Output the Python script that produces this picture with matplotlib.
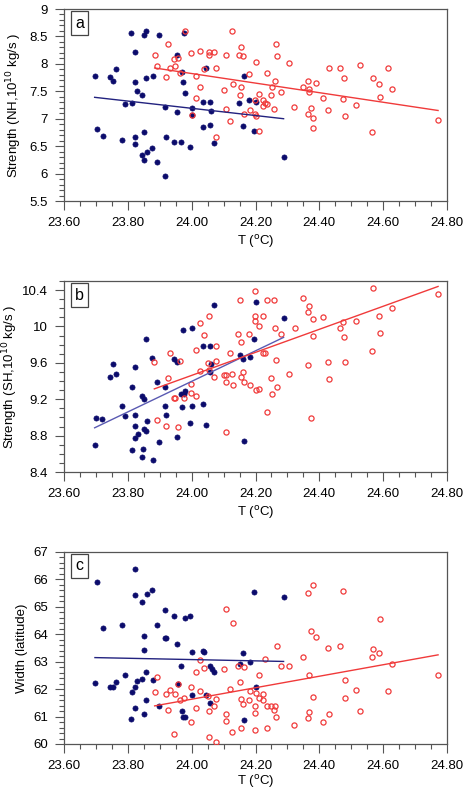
import matplotlib
matplotlib.use("Agg")
import matplotlib.pyplot as plt
from matplotlib.ticker import MultipleLocator, FormatStrFormatter, FuncFormatter

plt.rcParams['font.family'] = ['Liberation Sans', 'DejaVu Sans']

# ---------------- data (panel a: NH strength) ----------------
Ta_blue = [23.696,23.702,23.721,23.744,23.753,23.764,23.782,23.791,23.811,23.813,
           23.823,23.823,23.823,23.822,23.830,23.843,23.845,23.850,23.856,23.850,
           23.851,23.856,23.860,23.877,23.880,23.890,23.897,23.915,23.918,23.919,
           23.945,23.954,23.953,23.967,23.970,23.972,23.978,23.977,23.995,24.002,
           24.000,24.036,24.036,24.045,24.057,24.060,24.058,24.070,24.149,24.165,
           24.160,24.180,24.196,24.202,24.288]
Sa_blue = [7.785,6.81,6.69,7.755,7.69,7.91,6.62,7.27,8.57,7.29,
           8.21,7.67,6.67,6.545,7.50,6.34,7.44,8.52,8.59,6.76,
           6.24,7.75,6.40,6.46,7.77,6.22,8.53,5.96,7.21,6.66,
           6.57,8.155,7.12,6.58,7.86,7.67,7.46,8.56,6.48,7.19,
           7.07,7.31,6.84,7.92,7.31,7.14,6.88,6.55,7.29,7.785,
           6.86,7.35,6.78,7.31,6.31]
Ta_red = [23.884,23.892,23.920,23.927,23.933,23.945,23.947,23.956,23.962,23.978,
          23.999,24.001,24.015,24.015,24.026,24.025,24.039,24.053,24.055,24.069,
          24.075,24.077,24.100,24.109,24.108,24.121,24.125,24.130,24.148,24.150,
          24.155,24.156,24.161,24.165,24.180,24.183,24.199,24.199,24.200,24.203,
          24.211,24.211,24.223,24.225,24.230,24.236,24.235,24.248,24.251,24.257,
          24.260,24.263,24.266,24.280,24.305,24.322,24.349,24.363,24.364,24.367,
          24.368,24.374,24.380,24.379,24.390,24.410,24.428,24.431,24.464,24.474,
          24.478,24.479,24.514,24.526,24.565,24.569,24.587,24.589,24.614,24.627,
          24.772]
Sa_red = [8.17,7.955,7.755,8.37,7.92,8.095,7.955,8.11,7.83,8.59,
          8.20,7.07,7.785,7.385,8.235,7.57,7.90,8.21,8.155,8.215,
          7.92,6.67,7.52,7.18,8.17,6.95,8.59,7.63,8.155,7.43,
          8.30,7.57,8.15,7.08,7.82,7.165,7.35,7.09,7.055,8.03,
          6.77,7.45,7.35,7.23,7.28,7.26,7.83,7.43,7.57,7.18,
          7.68,8.37,8.15,7.48,8.01,7.21,7.57,7.68,7.08,7.55,
          7.49,7.19,7.02,6.83,7.66,7.38,7.16,7.92,7.93,7.365,
          7.74,7.05,7.25,7.985,6.75,7.74,7.63,7.40,7.92,7.55,
          6.97]
fit_a_blue = [7.39, 7.00]
fit_a_red = [7.925, 7.15]

# ---------------- data (panel b: SH strength) ----------------
Tb_blue = [23.696,23.701,23.720,23.744,23.753,23.764,23.782,23.791,23.812,23.814,
           23.822,23.823,23.822,23.823,23.831,23.843,23.844,23.848,23.850,23.851,
           23.856,23.857,23.860,23.877,23.880,23.890,23.897,23.915,23.918,23.919,
           23.945,23.954,23.955,23.967,23.970,23.972,23.978,23.977,23.995,24.000,
           24.002,24.036,24.036,24.045,24.057,24.060,24.058,24.070,24.150,24.161,
           24.165,24.182,24.196,24.203,24.288]
Sb_blue = [8.70,8.99,8.985,9.445,9.59,9.48,9.13,9.02,8.64,9.34,
           9.55,9.03,8.91,8.77,8.82,9.24,8.56,8.655,9.205,8.875,
           9.86,8.855,8.96,9.65,8.535,9.385,8.725,9.34,9.13,9.03,
           9.64,9.61,8.79,9.26,9.115,9.96,9.29,9.26,8.94,9.98,
           9.13,9.78,9.145,8.92,9.79,9.59,9.50,10.24,9.685,9.645,
           8.74,9.66,9.86,10.27,10.09]
Tb_red = [23.883,23.892,23.920,23.926,23.933,23.945,23.947,23.956,23.962,23.977,
          23.999,23.999,24.015,24.015,24.026,24.025,24.039,24.053,24.055,24.050,
          24.069,24.075,24.076,24.100,24.109,24.108,24.108,24.121,24.125,24.130,
          24.146,24.150,24.154,24.156,24.160,24.165,24.180,24.183,24.199,24.198,
          24.198,24.202,24.211,24.211,24.225,24.223,24.231,24.236,24.235,24.248,
          24.251,24.257,24.260,24.263,24.266,24.280,24.305,24.324,24.349,24.363,
          24.364,24.367,24.374,24.380,24.380,24.410,24.428,24.431,24.464,24.474,
          24.478,24.479,24.514,24.565,24.569,24.587,24.589,24.627,24.772]
Sb_red = [9.61,8.975,8.91,9.43,9.71,9.215,9.215,8.90,9.625,9.21,
          9.37,9.27,9.24,9.745,9.51,10.04,9.91,10.12,9.52,9.595,
          9.44,9.62,9.78,9.47,9.47,9.39,8.84,9.705,9.48,9.36,
          9.92,10.29,9.45,9.83,9.50,9.39,9.92,9.36,10.385,10.115,
          10.055,9.30,10.01,9.31,10.12,9.705,9.705,9.06,10.29,9.43,
          9.26,10.29,9.98,9.635,9.335,9.92,9.475,9.98,10.31,10.155,
          9.58,10.22,8.99,10.085,9.89,10.10,9.61,9.42,9.98,10.05,
          9.88,9.61,10.06,9.735,10.42,10.11,9.925,10.20,10.36]
fit_b_blue = [8.886, 9.88]
fit_b_red = [9.314, 10.44]

# ---------------- data (panel c: width) ----------------
Tc_blue = [23.697,23.702,23.721,23.744,23.753,23.764,23.782,23.791,23.811,23.813,
           23.822,23.823,23.823,23.823,23.830,23.843,23.845,23.850,23.850,23.851,
           23.856,23.856,23.860,23.877,23.880,23.890,23.897,23.915,23.919,23.918,
           23.945,23.953,23.956,23.967,23.970,23.972,23.979,23.978,23.995,24.000,
           24.002,24.036,24.038,24.045,24.057,24.058,24.063,24.070,24.150,24.161,
           24.165,24.182,24.196,24.202,24.288]
Wc_blue = [62.23,65.90,64.245,62.06,62.06,62.27,64.33,62.50,60.91,61.88,
           66.39,65.42,62.06,61.30,62.30,65.18,62.375,63.955,63.44,61.09,
           62.63,61.62,65.48,65.60,62.34,64.33,61.37,63.87,63.87,64.88,
           64.65,63.65,62.19,62.86,61.19,61.00,60.98,64.61,64.66,61.79,
           63.35,63.38,63.34,61.78,61.51,62.83,62.73,62.64,62.93,63.31,
           60.87,62.98,65.54,62.06,65.35]
Tc_red = [23.892,23.884,23.919,23.926,23.933,23.946,23.947,23.956,23.962,23.977,
          23.999,23.999,24.015,24.015,24.025,24.026,24.039,24.050,24.055,24.055,
          24.069,24.075,24.076,24.100,24.108,24.109,24.109,24.121,24.125,24.130,
          24.146,24.150,24.154,24.156,24.161,24.165,24.180,24.183,24.199,24.198,
          24.198,24.202,24.210,24.211,24.222,24.225,24.230,24.235,24.236,24.248,
          24.257,24.260,24.263,24.268,24.280,24.305,24.322,24.349,24.363,24.364,
          24.367,24.368,24.374,24.380,24.379,24.390,24.410,24.428,24.431,24.464,
          24.474,24.479,24.479,24.514,24.526,24.565,24.569,24.587,24.589,24.614,
          24.627,24.772]
Wc_red = [62.44,61.90,61.84,61.24,61.98,60.35,61.84,62.19,61.60,61.66,
          62.07,60.80,61.30,62.64,63.06,61.92,62.78,61.76,61.21,60.25,
          61.38,61.64,60.08,62.74,64.91,61.11,60.85,62.00,60.42,64.42,
          62.85,62.27,61.64,60.58,61.45,62.81,61.61,61.92,60.50,61.38,
          61.14,61.87,62.53,61.67,61.82,61.61,63.10,61.38,60.58,61.38,
          61.25,61.38,60.97,63.58,62.84,62.84,60.70,63.18,65.51,60.96,
          61.15,62.50,64.11,65.80,61.71,63.89,60.82,63.49,61.11,63.57,
          65.59,62.34,61.67,61.98,61.20,63.17,63.48,63.32,64.57,61.95,
          62.90,62.51]
fit_c_blue = [63.15, 63.01]
fit_c_red = [61.39, 63.25]

panel_labels = ['a', 'b', 'c']
ylabels = ['Strength (NH,10$^{10}$ kg/s )', 'Strength (SH,10$^{10}$ kg/s )', 'Width (latitude)']
xlabel = 'T ($^{\\rm o}$C)'
xticks = [23.60, 23.80, 24.00, 24.20, 24.40, 24.60, 24.80]

# ---------------- style ----------------
BLUE = '#0c0c6c'
RED = '#f03a3a'
SPINE = '#555555'

fig = plt.figure(figsize=(4.65, 7.89), dpi=100)
W, H = 465.0, 789.0
boxes = [(64, 9, 447, 201), (64, 281, 447, 472), (64, 552, 447, 744)]
ylims = [(5.5, 9.0), (8.4, 10.5), (60, 67)]
ymaj = [0.5, 0.4, 1.0]
ymin = [0.1, 0.1, 0.2]
blue_line_cols = ['#22227f', '#5a5ab2', '#22227f']
ylabelpads = [4, 1.5, 4]
xlabelpads = [3, 3, 0.5]

panels = [
    (Ta_blue, Sa_blue, Ta_red, Sa_red, fit_a_blue, fit_a_red),
    (Tb_blue, Sb_blue, Tb_red, Sb_red, fit_b_blue, fit_b_red),
    (Tc_blue, Wc_blue, Tc_red, Wc_red, fit_c_blue, fit_c_red),
]

for i, (tb, yb, tr, yr, fb, fr) in enumerate(panels):
    x0, y0, x1, y1 = boxes[i]
    ax = fig.add_axes([x0 / W, 1 - y1 / H, (x1 - x0) / W, (y1 - y0) / H])
    ax.plot(tb, yb, 'o', ms=3.7, color=BLUE, mec=BLUE, mew=0.5, zorder=2)
    ax.plot(tr, yr, 'o', ms=3.7, mfc='none', mec=RED, mew=0.9, zorder=3)
    ax.plot([min(tb), max(tb)], fb, '-', color=blue_line_cols[i], lw=1.0, zorder=4)
    ax.plot([min(tr), max(tr)], fr, '-', color=RED, lw=1.0, zorder=4)

    ax.set_xlim(23.6, 24.8)
    ax.set_ylim(*ylims[i])
    ax.set_xticks(xticks)
    ax.xaxis.set_major_formatter(FormatStrFormatter('%.2f'))
    ax.xaxis.set_minor_locator(MultipleLocator(0.05))
    ax.yaxis.set_major_locator(MultipleLocator(ymaj[i]))
    ax.yaxis.set_minor_locator(MultipleLocator(ymin[i]))
    ax.yaxis.set_major_formatter(FuncFormatter(lambda v, p: '%g' % round(v, 3)))

    for s in ax.spines.values():
        s.set_color(SPINE)
        s.set_linewidth(0.9)
    ax.tick_params(which='major', direction='out', length=6.5, width=0.8, color=SPINE,
                   labelsize=9.5, pad=5, top=False, right=False)
    ax.tick_params(which='minor', direction='out', length=3.5, width=0.8, color=SPINE,
                   top=False, right=False)

    ax.set_xlabel(xlabel, fontsize=9.5, labelpad=xlabelpads[i])
    ax.set_ylabel(ylabels[i], fontsize=9.5, labelpad=ylabelpads[i])

    # panel label box
    ax.text(15.5 / (x1 - x0), 1 - 14.0 / (y1 - y0), panel_labels[i],
            transform=ax.transAxes, ha='center', va='center', fontsize=11.5,
            bbox=dict(boxstyle='square,pad=0.28', fc='white', ec='#444444', lw=0.9),
            zorder=6)

fig.savefig('out.png', dpi=100)
